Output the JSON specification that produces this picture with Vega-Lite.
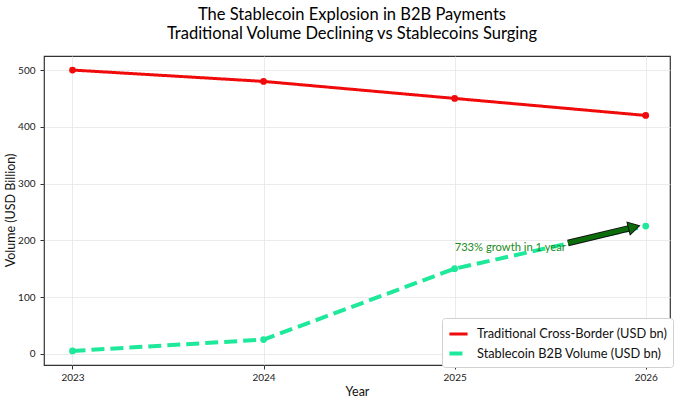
{
  "$schema": "https://vega.github.io/schema/vega-lite/v6.json",
  "width": 626,
  "height": 309,
  "autosize": {"type": "none"},
  "padding": {"left": 44, "top": 56, "right": 10, "bottom": 38},
  "background": "white",
  "title": {
    "text": ["The Stablecoin Explosion in B2B Payments", "Traditional Volume Declining vs Stablecoins Surging"],
    "fontSize": 16.5,
    "fontWeight": "normal",
    "font": "Lato",
    "color": "#000000",
    "anchor": "middle",
    "lineHeight": 19,
    "offset": 14,
    "dx": -5
  },
  "config": {
    "font": "Lato",
    "view": {"stroke": "#333333", "strokeWidth": 1.2},
    "axis": {
      "domain": false,
      "grid": true,
      "gridColor": "#e6e6e6",
      "gridWidth": 0.8,
      "tickColor": "#333333",
      "tickSize": 4,
      "labelFontSize": 10,
      "labelColor": "#222222",
      "titleFontSize": 12.5,
      "titleFontWeight": "normal",
      "titleColor": "#111111",
      "labelFont": "Lato",
      "titleFont": "Lato"
    }
  },
  "datasets": {
    "series": [
      {"year": 2023, "value": 500, "series": "Traditional Cross-Border (USD bn)"},
      {"year": 2024, "value": 480, "series": "Traditional Cross-Border (USD bn)"},
      {"year": 2025, "value": 450, "series": "Traditional Cross-Border (USD bn)"},
      {"year": 2026, "value": 420, "series": "Traditional Cross-Border (USD bn)"},
      {"year": 2023, "value": 5, "series": "Stablecoin B2B Volume (USD bn)"},
      {"year": 2024, "value": 25, "series": "Stablecoin B2B Volume (USD bn)"},
      {"year": 2025, "value": 150, "series": "Stablecoin B2B Volume (USD bn)"},
      {"year": 2026, "value": 225, "series": "Stablecoin B2B Volume (USD bn)"}
    ],
    "note": [
      {"year": 2025.0, "value": 187, "label": "733% growth in 1 year"}
    ],
    "arrow": [
      {"x1": 2025.593, "y1": 195.2, "x2": 2025.918, "y2": 221.6}
    ],
    "head": [
      {"year": 2025.939, "value": 223.3}
    ]
  },
  "encoding": {
    "x": {
      "type": "quantitative",
      "scale": {"domain": [2022.851, 2026.127], "nice": false, "zero": false},
      "axis": {"values": [2023, 2024, 2025, 2026], "format": "d", "title": "Year", "titlePadding": 3, "labelPadding": 3}
    },
    "y": {
      "type": "quantitative",
      "scale": {"domain": [-19.75, 524.75], "nice": false, "zero": false},
      "axis": {"values": [0, 100, 200, 300, 400, 500], "title": "Volume (USD Billion)", "titleX": -27, "titleY": 154, "titleAlign": "center", "titleBaseline": "bottom", "labelPadding": 5}
    }
  },
  "layer": [
    {
      "data": {"name": "series"},
      "mark": {"type": "line", "strokeCap": "butt"},
      "encoding": {
        "x": {"field": "year", "type": "quantitative"},
        "y": {"field": "value", "type": "quantitative"},
        "color": {
          "field": "series", "type": "nominal",
          "scale": {"domain": ["Traditional Cross-Border (USD bn)", "Stablecoin B2B Volume (USD bn)"], "range": ["#f00a0a", "#1ee89a"]},
          "legend": {
            "title": null,
            "orient": "none",
            "legendX": 398,
            "legendY": 262,
            "symbolType": "stroke",
            "symbolStrokeWidth": 3.2,
            "symbolSize": 330,
            "labelFontSize": 12.8,
            "labelLimit": 0,
            "labelOffset": 7,
            "labelColor": "#111111",
            "labelFont": "Lato",
            "padding": 5,
            "rowPadding": 1,
            "fillColor": "white",
            "strokeColor": "#d0d0d0",
            "cornerRadius": 3
          }
        },
        "strokeDash": {
          "field": "series", "type": "nominal",
          "scale": {"domain": ["Traditional Cross-Border (USD bn)", "Stablecoin B2B Volume (USD bn)"], "range": [[1, 0], [13, 6]]},
          "legend": {
            "title": null,
            "orient": "none",
            "legendX": 398,
            "legendY": 262,
            "symbolType": "stroke",
            "symbolStrokeWidth": 3.2,
            "symbolSize": 330,
            "labelFontSize": 12.8,
            "labelLimit": 0,
            "labelOffset": 7,
            "labelColor": "#111111",
            "labelFont": "Lato",
            "padding": 5,
            "rowPadding": 1,
            "fillColor": "white",
            "strokeColor": "#d0d0d0",
            "cornerRadius": 3
          }
        },
        "strokeWidth": {
          "field": "series", "type": "nominal",
          "scale": {"domain": ["Traditional Cross-Border (USD bn)", "Stablecoin B2B Volume (USD bn)"], "range": [3, 4]},
          "legend": null
        }
      }
    },
    {
      "data": {"name": "series"},
      "mark": {"type": "point", "filled": true, "size": 45, "opacity": 1},
      "encoding": {
        "x": {"field": "year", "type": "quantitative"},
        "y": {"field": "value", "type": "quantitative"},
        "color": {"field": "series", "type": "nominal", "legend": null}
      }
    },
    {
      "data": {"name": "note"},
      "mark": {"type": "text", "align": "left", "baseline": "middle", "fontSize": 11.2, "color": "#228b22", "font": "Lato"},
      "encoding": {
        "x": {"field": "year", "type": "quantitative"},
        "y": {"field": "value", "type": "quantitative"},
        "text": {"field": "label"}
      }
    },
    {
      "data": {"name": "arrow"},
      "mark": {"type": "rule", "color": "#111111", "strokeWidth": 6.5, "strokeCap": "butt"},
      "encoding": {
        "x": {"field": "x1", "type": "quantitative"},
        "y": {"field": "y1", "type": "quantitative"},
        "x2": {"field": "x2"},
        "y2": {"field": "y2"}
      }
    },
    {
      "data": {"name": "arrow"},
      "mark": {"type": "rule", "color": "#0b6e0b", "strokeWidth": 4.5, "strokeCap": "butt"},
      "encoding": {
        "x": {"field": "x1", "type": "quantitative"},
        "y": {"field": "y1", "type": "quantitative"},
        "x2": {"field": "x2"},
        "y2": {"field": "y2"}
      }
    },
    {
      "data": {"name": "head"},
      "mark": {"type": "point", "shape": "triangle-right", "filled": true, "size": 170, "angle": 346, "color": "#0b6e0b", "stroke": "#111111", "strokeWidth": 1, "opacity": 1},
      "encoding": {
        "x": {"field": "year", "type": "quantitative"},
        "y": {"field": "value", "type": "quantitative"}
      }
    }
  ]
}
